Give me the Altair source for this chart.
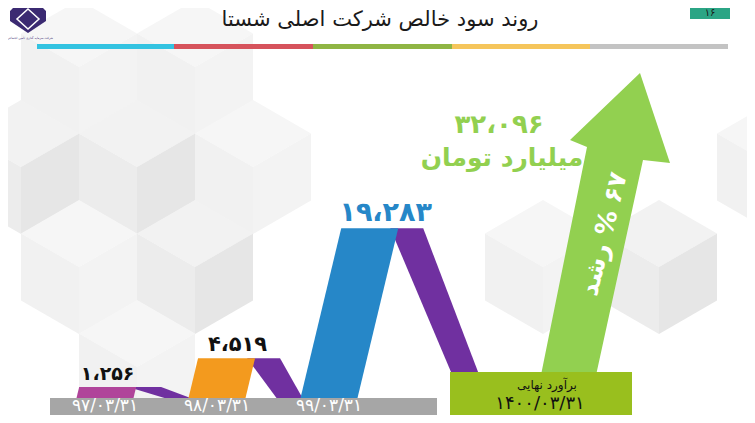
import altair as alt
import pandas as pd

# ---------------- data ----------------
title_text = "روند سود خالص شرکت اصلی شستا"
page_number = "۱۶"
dates = ["۹۷/۰۳/۳۱", "۹۸/۰۳/۳۱", "۹۹/۰۳/۳۱"]
profits = [1256, 4519, 19283]
profit_labels = ["۱،۲۵۶", "۴،۵۱۹", "۱۹،۲۸۳"]
forecast_date = "۱۴۰۰/۰۳/۳۱"
forecast_profit = 32096
forecast_label = "۳۲،۰۹۶"
unit_label = "میلیارد تومان"
forecast_caption = "برآورد نهایی"
growth_label = "۶۷ % رشد"
logo_caption = "شرکت سرمایه گذاری تامین اجتماعی"

# ---------------- style / layout ----------------
FONT = "DejaVu Sans"
RLE, PDF = "\u202B", "\u202C"   # right-to-left embedding for mixed text
bar_colors = ["#B0449A", "#F39A1E", "#2687C8"]
label_colors = ["#111111", "#111111", "#2687C8"]
label_sizes = [19, 21, 27]
label_shift = [0, 11, 16]
link_color = "#7030A0"
arrow_color = "#92D050"
box_color = "#99BF1E"
band_color = "#A6A6A6"
strip_colors = ["#33C3E1", "#D6535C", "#8FB544", "#F5C55B", "#C3C3C3"]
strip_edges = [37, 174, 313, 452, 590, 728]

OX, OY = 8, 8          # page margin
W, H = 739, 407        # plot size
BASE = 398             # baseline (pixel)
K = 0.0088             # pixels per unit of profit
slot_x = [105, 217, 329]
BW = 57
SLANT = 0.24
anchor_x = 486

X = alt.Scale(domain=[OX, OX + W], nice=False, zero=False)
YP = alt.Scale(domain=[OY, OY + H], reverse=True, nice=False, zero=False)
YV = alt.Scale(domain=[(BASE - (OY + H)) / K, (BASE - OY) / K], nice=False, zero=False)


def xenc(f="x"):
    return alt.X(f"{f}:Q", scale=X, axis=None)


def rects(rows):
    return alt.Chart(pd.DataFrame(rows)).mark_rect().encode(
        x=xenc("x"), x2="x2",
        y=alt.Y("y:Q", scale=YP, axis=None), y2="y2",
        color=alt.Color("c:N", scale=None))


def label(x, y, text, yscale=YP, **kw):
    return alt.Chart(pd.DataFrame({"x": [x], "y": [y], "t": [text]})).mark_text(
        font=FONT, **kw).encode(
        x=xenc("x"), y=alt.Y("y:Q", scale=yscale, axis=None), text="t:N")


def poly(pts, fill):
    ring = [list(p) for p in pts] + [list(pts[0])]
    return {"type": "Feature", "properties": {"fill": fill},
            "geometry": {"type": "Polygon", "coordinates": [ring]}}


def geo(features, **kw):
    return alt.Chart(alt.Data(values=features)).mark_geoshape(**kw).encode(
        color=alt.Color("properties.fill:N", scale=None)
    ).project(type="identity", scale=1, translate=[-OX, -OY])


# ---------------- background cubes ----------------
def cube(cx, cy, faces):
    s, w = 67, 58
    top = [(cx, cy - s), (cx + w, cy - s / 2), (cx, cy), (cx - w, cy - s / 2)]
    left = [(cx - w, cy - s / 2), (cx, cy), (cx, cy + s), (cx - w, cy + s / 2)]
    right = [(cx, cy), (cx + w, cy - s / 2), (cx + w, cy + s / 2), (cx, cy + s)]
    return [poly(top, faces[0]), poly(left, faces[1]), poly(right, faces[2])]


pale = ("#F6F6F6", "#F1F1F1", "#F3F3F3")
mid = ("#F2F2F2", "#ECECEC", "#E6E6E6")
bg = []
for (cx, cy, f) in [(79, 67, pale), (195, 67, pale), (21, 167, mid), (137, 167, mid),
                    (253, 167, pale), (79, 267, pale), (195, 267, mid), (137, 367, pale),
                    (659, 267, mid), (775, 167, pale), (543, 267, pale)]:
    bg += cube(cx, cy, f)
background = geo(bg, strokeWidth=0)

# ---------------- header ----------------
strip = rects([{"x": strip_edges[i], "x2": strip_edges[i + 1], "y": 44, "y2": 49,
                "c": strip_colors[i]} for i in range(5)])
page_box = rects([{"x": 690, "x2": 730, "y": 0, "y2": 19, "c": "#2BA585"}])
page_txt = label(710, 13, page_number, fontSize=10, color="#1a1a1a", baseline="middle")
title = label(380, 26, title_text, fontSize=21, color="#1a1a1a", baseline="alphabetic")
logo = geo([poly([(28, 6), (19, 2), (10, 11), (10, 21), (28, 33), (46, 21), (46, 11), (37, 2)],
                 "#3B2A72")], strokeWidth=0)
logo_in = geo([poly([(28, 9), (39, 19), (28, 29), (17, 19)], "#FFFFFF")],
              filled=False, strokeWidth=1.5)
logo_txt = label(30, 38, logo_caption, fontSize=3, color="#3B2A72", baseline="middle")

# ---------------- bars and links (value scale) ----------------
bar_rows, link_rows, lab_rows = [], [], []
next_left = [slot_x[1] - BW / 2, slot_x[2] - BW / 2, anchor_x]
for i, v in enumerate(profits):
    sh = SLANT * v * K
    l0, r0 = slot_x[i] - BW / 2, slot_x[i] + BW / 2
    bar_rows += [{"id": f"b{i}", "v": 0, "x1": l0, "x2": r0, "c": bar_colors[i]},
                 {"id": f"b{i}", "v": v, "x1": l0 + sh, "x2": r0 + sh, "c": bar_colors[i]}]
    tr = r0 + sh
    link_rows += [{"id": f"l{i}", "v": v, "x1": tr - 8, "x2": tr + 25, "c": link_color},
                  {"id": f"l{i}", "v": 0, "x1": next_left[i] - 24, "x2": next_left[i] + 2,
                   "c": link_color}]
    lab_rows.append({"x": slot_x[i] + sh + label_shift[i], "v": v, "t": profit_labels[i],
                     "c": label_colors[i], "fs": label_sizes[i]})


def shapes(rows):
    return alt.Chart(pd.DataFrame(rows)).mark_area(orient="horizontal").encode(
        y=alt.Y("v:Q", scale=YV, axis=None),
        x=alt.X("x1:Q", scale=X, axis=None, stack=None), x2="x2",
        detail="id:N", color=alt.Color("c:N", scale=None))


links = shapes(link_rows)
bars = shapes(bar_rows)
value_labels = alt.Chart(pd.DataFrame(lab_rows)).mark_text(
    font=FONT, fontWeight="bold", dy=-7, baseline="alphabetic").encode(
    x=xenc("x"), y=alt.Y("v:Q", scale=YV, axis=None), text="t:N",
    color=alt.Color("c:N", scale=None), size=alt.Size("fs:Q", scale=None))

# ---------------- date band ----------------
band = rects([{"x": 50, "x2": 437, "y": 398, "y2": 421, "c": band_color}])
date_labels = alt.Chart(pd.DataFrame({"x": slot_x, "y": [406] * 3, "t": dates})).mark_text(
    font=FONT, fontSize=17, color="white", baseline="middle").encode(
    x=xenc("x"), y=alt.Y("y:Q", scale=YP, axis=None), text="t:N")

# ---------------- forecast ----------------
arrow = geo([poly([(540, 380), (587, 147), (570, 140), (640, 73), (670, 163), (643, 160),
                   (595, 380)], arrow_color)], strokeWidth=0)
box = rects([{"x": 450, "x2": 632, "y": 372, "y2": 423, "c": box_color}])
box_t1 = label(547, 385, forecast_caption, fontSize=12, color="#111111", baseline="middle")
box_t2 = label(540, 404, forecast_date, fontSize=18, color="#111111", baseline="middle")
f_val = label(499, 133, forecast_label, fontSize=26, fontWeight="bold", color=arrow_color,
              baseline="alphabetic")
f_unit = label(502, 166, unit_label, fontSize=25, fontWeight="bold", color=arrow_color,
               baseline="alphabetic")
growth = label(604, 234, RLE + growth_label + PDF, fontSize=25, fontWeight="bold",
               color="white", baseline="middle", angle=284)

chart = alt.layer(
    background, strip, page_box, page_txt, title, logo, logo_in, logo_txt,
    links, bars, band, date_labels, value_labels,
    arrow, box, box_t1, box_t2, f_val, f_unit, growth
).resolve_scale(y="independent").properties(
    width=W, height=H, autosize=alt.AutoSizeParams(type="none"), padding=0,
    background="white"
).configure_view(stroke=None)

chart.save("out.html", embed_options={"renderer": "svg", "actions": False})
